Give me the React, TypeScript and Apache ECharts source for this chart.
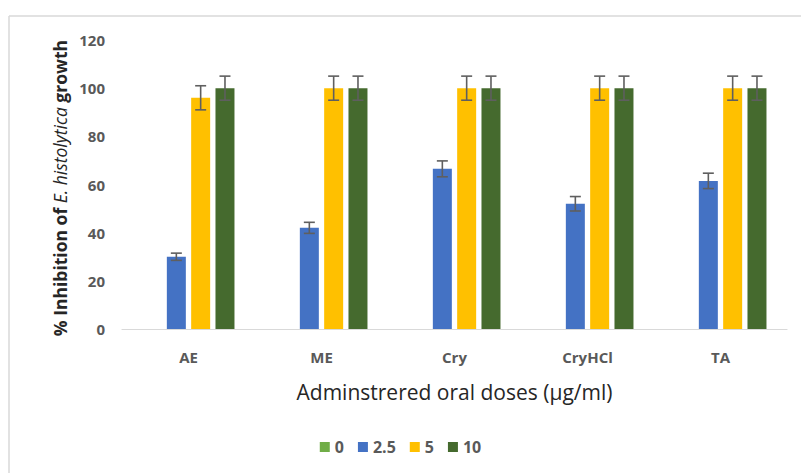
import React, { useEffect, useRef } from "react";
import * as echarts from "echarts";

const categories = ["AE", "ME", "Cry", "CryHCl", "TA"];
const seriesNames = ["0", "2.5", "5", "10"];
const values0 = [0, 0, 0, 0, 0];
const values25 = [30, 42, 66.5, 52, 61.5];
const values5 = [96, 100, 100, 100, 100];
const values10 = [100, 100, 100, 100, 100];
const err0 = [0, 0, 0, 0, 0];
const err25 = [1.5, 2.3, 3.3, 3, 3.2];
const err5 = [5, 5, 5, 5, 5];
const err10 = [5, 5, 5, 5, 5];
const yTicks = [0, 20, 40, 60, 80, 100, 120];
const yTitle = ["% Inhibition of ", "E. histolytica", " growth"];
const xTitle = "Adminstrered oral doses (µg/ml)";

const colors = ["#70AD47", "#4472C4", "#FFC000", "#456A2E"];
const BAR_W = 19;
const GAP = 0.28;

export default function App() {
  const ref = useRef<HTMLDivElement>(null);
  useEffect(() => {
    if (!ref.current) return;
    const chart = echarts.init(ref.current, undefined, { renderer: "svg" });
    const allVals = [values0, values25, values5, values10];
    const allErr = [err0, err25, err5, err10];
    const step = BAR_W * (1 + GAP);

    const barSeries = seriesNames.map((name, k) => ({
      name,
      type: "bar",
      data: allVals[k],
      barWidth: BAR_W,
      barGap: GAP * 100 + "%",
      itemStyle: { color: colors[k] },
    }));

    const errSeries = [1, 2, 3].map((k) => ({
      type: "custom",
      name: "err" + k,
      silent: true,
      z: 10,
      data: allVals[k].map((v, i) => [i, v, allErr[k][i]]),
      encode: { x: 0, y: 1 },
      renderItem: (params: any, api: any) => {
        const ci = api.value(0);
        const v = api.value(1);
        const e = api.value(2);
        const offset = (k - 1.5) * step;
        const top = api.coord([ci, v + e]);
        const bot = api.coord([ci, v - e]);
        const x = top[0] + offset;
        const cap = 5.5;
        const style = { stroke: "#5f5f5f", lineWidth: 1.6, fill: "none" };
        return {
          type: "group",
          children: [
            { type: "line", shape: { x1: x, y1: top[1], x2: x, y2: bot[1] }, style },
            { type: "line", shape: { x1: x - cap, y1: top[1], x2: x + cap, y2: top[1] }, style },
            { type: "line", shape: { x1: x - cap, y1: bot[1], x2: x + cap, y2: bot[1] }, style },
          ],
        };
      },
    }));

    chart.setOption({
      animation: false,
      backgroundColor: "#ffffff",
      textStyle: { fontFamily: "Open Sans" },
      grid: { left: 122, right: 14, top: 40, bottom: 144, containLabel: false },
      legend: {
        data: seriesNames,
        bottom: 13,
        left: "center",
        icon: "rect",
        itemWidth: 10,
        itemHeight: 10,
        itemGap: 14,
        textStyle: { color: "#595959", fontSize: 16, fontWeight: "bold", fontFamily: "Open Sans" },
      },
      xAxis: {
        type: "category",
        data: categories,
        axisLine: { lineStyle: { color: "#d9d9d9", width: 1.2 } },
        axisTick: { show: false },
        axisLabel: { color: "#595959", fontSize: 15, fontWeight: "bold", margin: 20, fontFamily: "Open Sans" },
        name: xTitle,
        nameLocation: "middle",
        nameGap: 52,
        nameTextStyle: { color: "#262626", fontSize: 21, fontFamily: "Open Sans" },
      },
      yAxis: {
        type: "value",
        min: yTicks[0],
        max: yTicks[yTicks.length - 1],
        interval: 20,
        splitLine: { show: false },
        axisLine: { show: false },
        axisTick: { show: false },
        axisLabel: { color: "#595959", fontSize: 15, fontWeight: "bold", margin: 17, fontFamily: "Open Sans" },
      },
      graphic: [
        { type: "line", shape: { x1: 9, y1: 16, x2: 801, y2: 16 }, style: { stroke: "#d9d9d9", lineWidth: 1.5 } },
        { type: "line", shape: { x1: 9, y1: 16, x2: 9, y2: 473 }, style: { stroke: "#d9d9d9", lineWidth: 1.5 } },
        {
          type: "text",
          x: 60,
          y: 188,
          rotation: Math.PI / 2,
          style: {
            text: "{n|" + yTitle[0] + "}{i|" + yTitle[1] + "}{n|" + yTitle[2] + "}",
            align: "center",
            verticalAlign: "middle",
            rich: {
              n: { fill: "#262626", fontSize: 17.5, fontWeight: "bold", fontFamily: "Open Sans" },
              i: { fill: "#262626", fontSize: 17.5, fontStyle: "italic", fontFamily: "Open Sans" },
            },
          },
        },
      ],
      series: [...barSeries, ...errSeries],
    });
    return () => chart.dispose();
  }, []);
  return (
    <div
      ref={ref}
      style={{ position: "fixed", left: 0, top: 0, width: 801, height: 473 }}
    />
  );
}
